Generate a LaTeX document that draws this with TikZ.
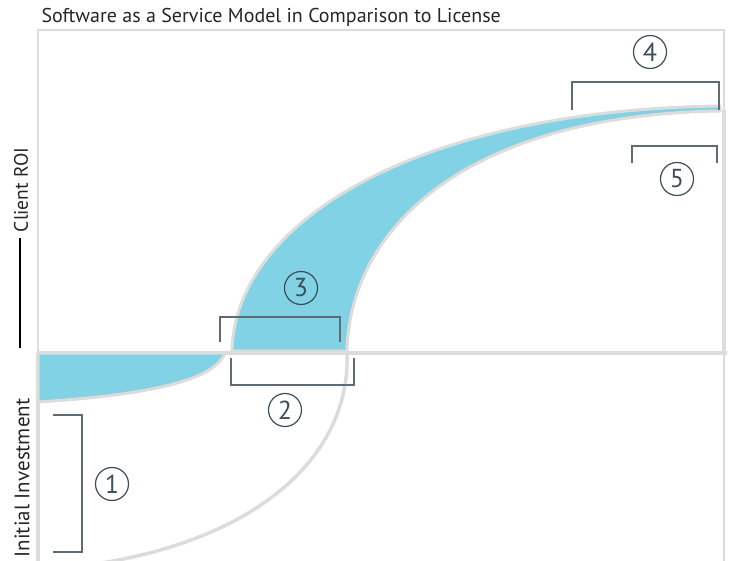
\documentclass[tikz,border=0pt]{standalone}
\usepackage{fontspec}
\setmainfont{PT Sans}
\definecolor{saasblue}{HTML}{80D2E4}
\definecolor{rulegray}{HTML}{DCDCDC}
\definecolor{slate}{HTML}{5E6B75}
\definecolor{ink}{HTML}{3E4E59}

\begin{document}
\begin{tikzpicture}[x=1pt,y=-1pt,
    every node/.style={font=\fontsize{20}{22}\selectfont,text=black!85},
    frame/.style={rulegray,line width=1.5pt},
    edge/.style={rulegray,line width=3.5pt},
    area/.style={fill=saasblue,draw=rulegray,line width=3pt,line join=round},
    brace/.style={slate,line width=1.3pt},
    num/.style={circle,draw=ink,line width=1.2pt,inner sep=0pt,minimum size=33pt,
      text=ink,font=\fontsize{26}{28}\selectfont}]
  \useasboundingbox (0,0) rectangle (731,561);
  % outer frame and axes
  \draw[frame] (38,561) -- (38,30) -- (724,30) -- (724,561);
  \draw[edge] (38,353) -- (727,353);
  \draw[edge] (38,353) -- (38,561);
  \draw[edge] (724,110) -- (724,353);
  % licence curve below the axis
  \draw[edge] (347,351) .. controls (352,460) and (250,545) .. (80,566);
  % saas areas
  \filldraw[area] (38,353) -- (225,353) .. controls (215,380) and (150,395) .. (38,402) -- cycle;
  \filldraw[area] (232,351) .. controls (235,220) and (420,110) .. (720,106)
     -- (720,111) .. controls (470,115) and (350,225) .. (347,351) -- cycle;
  % brackets
  \draw[brace] (53,415) -| (82,552) -- (53,552);
  \foreach \xa/\xb/\ya/\yb in {231/354/358/385,220/340/342/317,572/719/110/82,632/717/163/146}
     \draw[brace] (\xa,\ya) |- (\xb,\yb) -- (\xb,\ya);
  \foreach \n/\x/\y in {1/112/484,2/285/410,3/301/288,4/650/52,5/677/179}
     \node[num] (n\n) at (\x,\y) {\n};
  % titles
  \node[anchor=west] (title) at (38,17) {Software as a Service Model in Comparison to License};
  \node[rotate=90,font=\fontsize{19.5}{21}\selectfont] (roi) at (21,190) {Client ROI};
  \draw[black,line width=1.5pt] (roi.west) ++(-1,2) -- ++(0,110);
  \node[rotate=90,font=\fontsize{21}{23}\selectfont] (inv) at (22,478) {Initial Investment};
\end{tikzpicture}
\end{document}
